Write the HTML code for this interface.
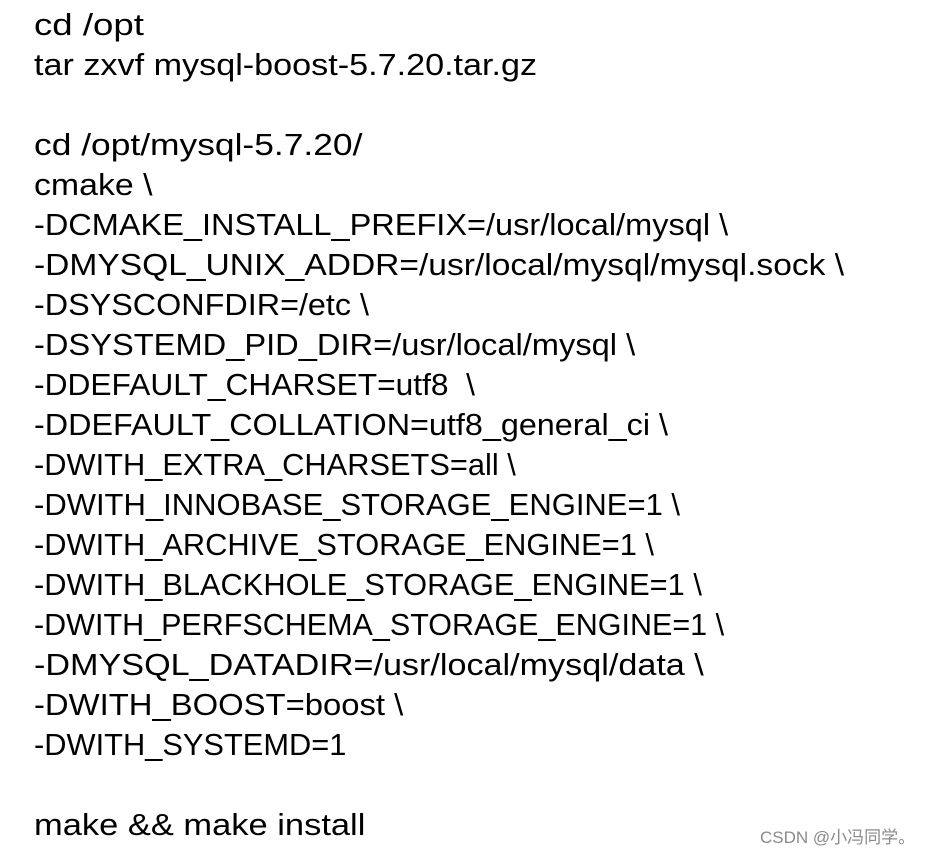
<!DOCTYPE html>
<html><head><meta charset="utf-8"><style>
html,body{margin:0;padding:0;background:#fff;width:939px;height:857px;overflow:hidden;position:relative}
.t{position:absolute;left:34px;top:5px;font-family:"Liberation Sans","Noto Sans CJK SC",sans-serif;font-size:30.5px;line-height:40px;color:#000}
.t div{height:40px;transform-origin:0 50%;white-space:pre}
.w{position:absolute;left:760px;top:823px;font-family:"Liberation Sans","Noto Sans CJK SC",sans-serif;font-size:17px;color:#8a8a8a;white-space:pre}
</style></head><body>
<div class="t">
<div style="transform:scaleX(1.20)">cd /opt</div>
<div style="transform:scaleX(1.12)">tar zxvf mysql-boost-5.7.20.tar.gz</div>
<div></div>
<div style="transform:scaleX(1.16)">cd /opt/mysql-5.7.20/</div>
<div style="transform:scaleX(1.11)">cmake \</div>
<div style="transform:scaleX(1.066)">-DCMAKE_INSTALL_PREFIX=/usr/local/mysql \</div>
<div style="transform:scaleX(1.10)">-DMYSQL_UNIX_ADDR=/usr/local/mysql/mysql.sock \</div>
<div style="transform:scaleX(1.06)">-DSYSCONFDIR=/etc \</div>
<div style="transform:scaleX(1.07)">-DSYSTEMD_PID_DIR=/usr/local/mysql \</div>
<div style="transform:scaleX(1.04)">-DDEFAULT_CHARSET=utf8  \</div>
<div style="transform:scaleX(1.06)">-DDEFAULT_COLLATION=utf8_general_ci \</div>
<div style="transform:scaleX(1.01)">-DWITH_EXTRA_CHARSETS=all \</div>
<div style="transform:scaleX(1.016)">-DWITH_INNOBASE_STORAGE_ENGINE=1 \</div>
<div style="transform:scaleX(1.01)">-DWITH_ARCHIVE_STORAGE_ENGINE=1 \</div>
<div style="transform:scaleX(1.01)">-DWITH_BLACKHOLE_STORAGE_ENGINE=1 \</div>
<div>-DWITH_PERFSCHEMA_STORAGE_ENGINE=1 \</div>
<div style="transform:scaleX(1.12)">-DMYSQL_DATADIR=/usr/local/mysql/data \</div>
<div style="transform:scaleX(1.076)">-DWITH_BOOST=boost \</div>
<div style="transform:scaleX(1.01)">-DWITH_SYSTEMD=1</div>
<div></div>
<div style="transform:scaleX(1.13)">make &amp;&amp; make install</div>
</div>
<div class="w">CSDN @小冯同学。</div>
</body></html>
